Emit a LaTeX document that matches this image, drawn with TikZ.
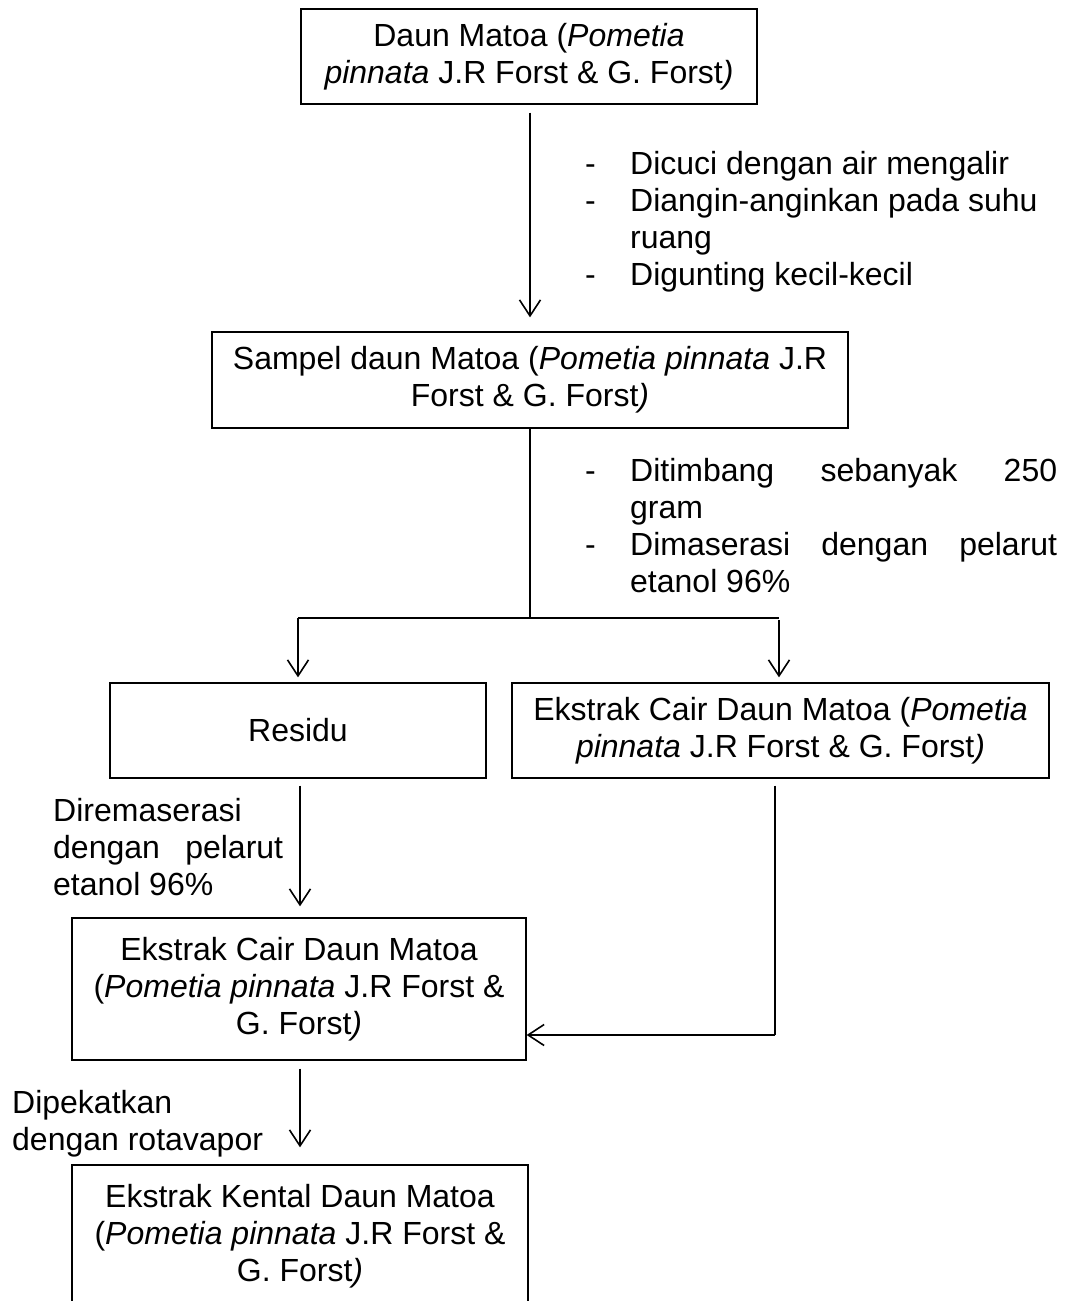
\documentclass[tikz,border=0pt]{standalone}
\usepackage{fontspec}
\setmainfont{Liberation Sans}
\usetikzlibrary{arrows.meta}
\newcommand\dl[1]{\makebox[45pt][l]{-}#1}
\newcommand\cl[1]{\hspace*{45pt}#1}
\tikzset{
  box/.style={draw, line width=1.3pt, align=center, inner sep=0pt},
  arr/.style={line width=1.6pt, -{Straight Barb[length=16pt,width=21pt,line width=1.6pt]}},
  ln/.style={line width=1.6pt},
  lbl/.style={align=left, inner sep=0pt, anchor=north west},
}
\begin{document}
\begin{tikzpicture}[x=1pt,y=-1pt,font=\fontsize{32}{37}\selectfont]
\clip (0,0) rectangle (1065,1301);
\useasboundingbox (0,0) rectangle (1065,1301);
\node[box, minimum width=456pt, minimum height=95pt] (b1) at (529,56.5)
  {Daun Matoa (\textit{Pometia}\\ \textit{pinnata} J.R Forst \& G. Forst\textit{)}};
\node[box, minimum width=636pt, minimum height=96pt] (b2) at (530,380)
  {Sampel daun Matoa (\textit{Pometia pinnata} J.R\\ Forst \& G. Forst\textit{)}};
\node[box, minimum width=376pt, minimum height=95pt] (res) at (298,730.5) {Residu};
\node[box, minimum width=537pt, minimum height=95pt] (ecr) at (780.5,730.5)
  {Ekstrak Cair Daun Matoa (\textit{Pometia}\\ \textit{pinnata} J.R Forst \& G. Forst\textit{)}};
\node[box, minimum width=454pt, minimum height=142pt] (b4) at (299,989)
  {Ekstrak Cair Daun Matoa\\ (\textit{Pometia pinnata} J.R Forst \&\\ G. Forst\textit{)}};
\node[box, minimum width=456pt, minimum height=142pt] (b5) at (300,1236)
  {Ekstrak Kental Daun Matoa\\ (\textit{Pometia pinnata} J.R Forst \&\\ G. Forst\textit{)}};

\node[lbl] (l1) at (585,151) {\dl{Dicuci dengan air mengalir}\\ \dl{Diangin-anginkan pada suhu}\\ \cl{ruang}\\ \dl{Digunting kecil-kecil}};
\node[lbl] (l2) at (585,458) {\dl{\hbox to 427pt{Ditimbang\hfil sebanyak\hfil 250}}\\ \cl{gram}\\ \dl{\hbox to 427pt{Dimaserasi\hfil dengan\hfil pelarut}}\\ \cl{etanol 96\%}};
\node[lbl] (l3) at (53,798) {\hbox to 230pt{Diremaserasi\hfil}\\ \hbox to 230pt{dengan\hfil pelarut}\\ etanol 96\%};
\node[lbl] (l4) at (12,1090) {Dipekatkan\\ dengan rotavapor};

\coordinate (sp) at (530,618);
\coordinate (spL) at (298,618);
\coordinate (spR) at (779,618);
\coordinate (rc) at (775,1035);

\draw[arr] ([yshift=-8pt]b1.south -| 530,0) -- ([yshift=14pt]b2.north -| 530,0);
\draw[ln] (b2.south) -- (sp);
\draw[ln] (spL) -- (spR);
\draw[arr] (spL) -- ([yshift=5pt]res.north);
\draw[arr] ([yshift=-2pt]spR) -- ([yshift=5pt]ecr.north -| spR);
\draw[arr] ([yshift=-7pt]res.south -| 300,0) -- ([yshift=11pt]b4.north -| 300,0);
\draw[ln] ([yshift=-7pt]ecr.south -| rc) -- (rc);
\draw[arr] (rc) -- (b4.east |- rc);
\draw[arr] ([yshift=-8pt]b4.south -| 300,0) -- ([yshift=17pt]b5.north -| 300,0);
\end{tikzpicture}
\end{document}
